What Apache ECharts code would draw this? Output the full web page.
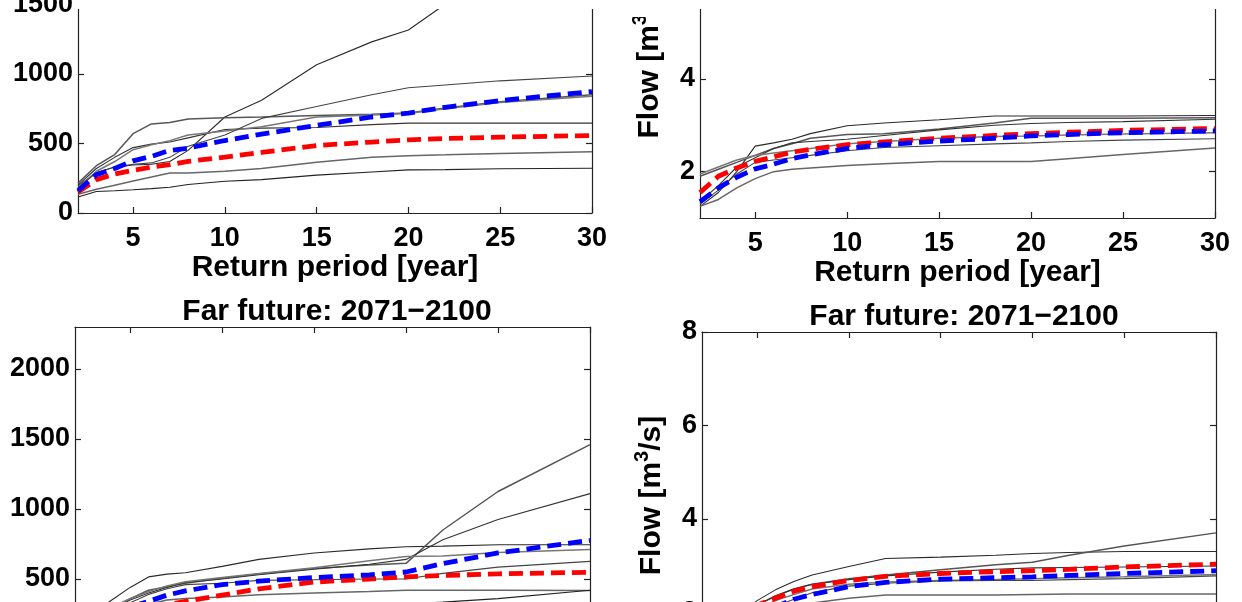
<!DOCTYPE html>
<html>
<head>
<meta charset="utf-8">
<script src="https://cdn.jsdelivr.net/npm/echarts@6/dist/echarts.min.js"></script>
<style>
  html, body { margin: 0; padding: 0; background: #fff; overflow: hidden; width: 1242px; height: 602px; }
  #wrap { position: relative; width: 1242px; height: 602px; overflow: hidden; }
  #chart { position: absolute; left: 0; top: -120px; width: 1242px; height: 850px; }
</style>
</head>
<body>
<div id="wrap"><div id="chart"></div></div>
<script>
// ---- data ----
const returnPeriod = [2, 3, 4, 5, 6, 7, 8, 10, 12, 15, 18, 20, 22, 25, 30];
const xTickValues = [5, 10, 15, 20, 25, 30];
const leftTickValues = [0, 500, 1000, 1500, 2000];
const rightTickValues = [2, 4, 6, 8];
const panelTitle = 'Far future: 2071\u22122100';
const xAxisTitle = 'Return period [year]';

// top-left panel
const tlModels = [
  [195, 290, 330, 345, 350, 370, 450, 690, 810, 1065, 1230, 1315, 1500, 1750, 2100],
  [215, 340, 420, 570, 640, 650, 675, 685, 690, 700, 710, 718, 755, 800, 850],
  [200, 320, 400, 470, 495, 510, 540, 600, 610, 615, 635, 646, 646, 646, 646],
  [180, 300, 370, 455, 490, 520, 560, 590, 620, 690, 705, 715, 750, 795, 840],
  [180, 290, 330, 350, 360, 400, 480, 560, 680, 765, 850, 900, 920, 950, 985],
  [135, 170, 200, 230, 258, 287, 288, 300, 320, 365, 400, 412, 418, 428, 440],
  [115, 155, 160, 167, 175, 185, 205, 228, 240, 272, 295, 310, 312, 318, 322]
];
const tlRed  = [150, 240, 280, 306, 330, 347, 371, 402, 435, 485, 510, 526, 535, 545, 557];
const tlBlue = [160, 275, 320, 375, 407, 450, 466, 521, 567, 630, 690, 718, 760, 808, 873];

// top-right panel
const trModels = [
  [1.25, 1.55, 2.0, 2.55, 2.62, 2.7, 2.82, 2.99, 3.05, 3.12, 3.2, 3.2, 3.2, 3.2, 3.21],
  [1.9, 2.05, 2.2, 2.35, 2.5, 2.6, 2.72, 2.8, 2.82, 2.92, 3.05, 3.15, 3.15, 3.15, 3.16],
  [1.35, 1.7, 2.1, 2.3, 2.5, 2.62, 2.65, 2.7, 2.78, 2.9, 3.0, 3.04, 3.06, 3.08, 3.13],
  [1.95, 2.1, 2.25, 2.35, 2.4, 2.45, 2.5, 2.6, 2.65, 2.72, 2.76, 2.77, 2.79, 2.81, 2.84],
  [1.3, 1.6, 1.95, 2.2, 2.25, 2.3, 2.35, 2.45, 2.52, 2.56, 2.6, 2.62, 2.65, 2.68, 2.71],
  [1.25, 1.4, 1.65, 1.85, 2.0, 2.05, 2.08, 2.13, 2.17, 2.22, 2.22, 2.22, 2.28, 2.37, 2.51]
];
const trRed  = [1.55, 1.9, 2.08, 2.22, 2.32, 2.42, 2.48, 2.58, 2.64, 2.72, 2.78, 2.82, 2.85, 2.89, 2.93];
const trBlue = [1.35, 1.65, 1.88, 2.06, 2.16, 2.28, 2.36, 2.5, 2.58, 2.66, 2.72, 2.77, 2.8, 2.84, 2.88];

// bottom-left panel
const blModels = [
  [180, 260, 350, 440, 515, 535, 545, 590, 640, 686, 715, 730, 735, 745, 745],
  [150, 220, 290, 360, 420, 445, 470, 505, 535, 575, 600, 612, 850, 1125, 1460],
  [150, 210, 280, 350, 400, 440, 475, 500, 530, 570, 605, 640, 780, 925, 1110],
  [160, 230, 300, 360, 410, 450, 480, 510, 540, 580, 630, 660, 665, 690, 710],
  [140, 200, 260, 330, 390, 430, 460, 470, 490, 495, 500, 500, 540, 585, 626],
  [120, 170, 220, 270, 320, 350, 360, 372, 388, 400, 410, 420, 420, 420, 418],
  [100, 140, 170, 200, 220, 240, 250, 270, 285, 300, 310, 320, 335, 360, 420]
];
const blRed  = [100, 160, 205, 250, 285, 315, 340, 385, 430, 478, 500, 515, 525, 537, 548];
const blBlue = [130, 190, 250, 300, 340, 385, 415, 460, 485, 510, 530, 550, 610, 686, 776];

// bottom-right panel
const brModels = [
  [1.3, 1.65, 1.95, 2.25, 2.48, 2.66, 2.8, 2.98, 3.15, 3.18, 3.22, 3.26, 3.28, 3.3, 3.3],
  [1.25, 1.6, 1.9, 2.15, 2.35, 2.5, 2.6, 2.72, 2.8, 2.91, 3.02, 3.07, 3.22, 3.42, 3.7],
  [1.25, 1.6, 1.9, 2.15, 2.35, 2.5, 2.6, 2.7, 2.78, 2.86, 2.92, 2.95, 2.96, 2.97, 2.99],
  [1.2, 1.5, 1.8, 2.05, 2.25, 2.38, 2.5, 2.6, 2.65, 2.68, 2.7, 2.72, 2.74, 2.76, 2.81],
  [1.1, 1.4, 1.7, 1.95, 2.12, 2.28, 2.42, 2.56, 2.62, 2.67, 2.68, 2.68, 2.7, 2.72, 2.78],
  [1.05, 1.3, 1.6, 1.8, 1.95, 2.08, 2.2, 2.3, 2.37, 2.37, 2.37, 2.38, 2.39, 2.39, 2.39]
];
const brRed  = [1.3, 1.65, 1.9, 2.15, 2.3, 2.45, 2.55, 2.68, 2.77, 2.83, 2.87, 2.89, 2.92, 2.97, 3.03];
const brBlue = [1.2, 1.5, 1.78, 2.0, 2.12, 2.28, 2.38, 2.55, 2.64, 2.71, 2.74, 2.76, 2.79, 2.83, 2.89];

// ---- build chart (the canvas is taller than the window and shifted up,
// so the panels are cropped like the reference figure) ----
const FONT = 'Liberation Sans';
const SHIFT = 120;
const panels = [
  { grid: { left: 78, top: SHIFT - 107, width: 514, height: 320 }, ymin: 0, ymax: 2300, yTicks: leftTickValues,
    models: tlModels, red: tlRed, blue: tlBlue, yName: false, namePad: 0 },
  { grid: { left: 700, top: SHIFT - 109, width: 515, height: 327 }, ymin: 1, ymax: 8, yTicks: rightTickValues,
    models: trModels, red: trRed, blue: trBlue, yName: true, namePad: 6 },
  { grid: { left: 75, top: SHIFT + 327, width: 515, height: 322 }, ymin: 0, ymax: 2300, yTicks: leftTickValues,
    models: blModels, red: blRed, blue: blBlue, yName: false, namePad: 0 },
  { grid: { left: 702, top: SHIFT + 332, width: 514, height: 328 }, ymin: 1, ymax: 8, yTicks: rightTickValues,
    models: brModels, red: brRed, blue: brBlue, yName: true, namePad: 0 }
];

const grids = [], xAxes = [], yAxes = [], series = [];
const axisLineStyle = { color: '#222', width: 1.2 };
const labelStyle = { fontFamily: FONT, fontWeight: 'bold', fontSize: 27, color: '#000', formatter: v => String(v) };
const grays = ['#2a2a2a', '#555', '#333', '#777', '#444', '#666', '#222'];

panels.forEach((p, g) => {
  grids.push(Object.assign({ containLabel: false, show: false }, p.grid));
  xAxes.push({
    type: 'value', gridIndex: g, min: 2, max: 30, position: 'bottom',
    name: xAxisTitle, nameLocation: 'middle', nameGap: 40,
    nameTextStyle: { fontFamily: FONT, fontWeight: 'bold', fontSize: 30, color: '#000' },
    axisLine: { onZero: false, lineStyle: axisLineStyle },
    axisTick: { inside: true, length: 6, customValues: xTickValues, lineStyle: axisLineStyle },
    axisLabel: Object.assign({ margin: 12, customValues: xTickValues }, labelStyle),
    splitLine: { show: false }
  });
  xAxes.push({
    type: 'value', gridIndex: g, min: 2, max: 30, position: 'top',
    axisLine: { onZero: false, lineStyle: axisLineStyle },
    axisTick: { inside: true, length: 6, customValues: xTickValues, lineStyle: axisLineStyle },
    axisLabel: { show: false }, splitLine: { show: false }
  });
  yAxes.push({
    type: 'value', gridIndex: g, min: p.ymin, max: p.ymax, position: 'left',
    name: p.yName ? 'Flow [m{sup|3}/s]' : '', nameLocation: 'middle', nameGap: 30,
    nameTextStyle: {
      fontFamily: FONT, fontWeight: 'bold', fontSize: 30, color: '#000',
      padding: [0, p.namePad, 0, 0],
      rich: { sup: { fontFamily: FONT, fontWeight: 'bold', fontSize: 20, color: '#000', verticalAlign: 'top', lineHeight: 40 } }
    },
    axisLine: { onZero: false, lineStyle: axisLineStyle },
    axisTick: { inside: true, length: 6, customValues: p.yTicks, lineStyle: axisLineStyle },
    axisLabel: Object.assign({ margin: 5, customValues: p.yTicks }, labelStyle),
    splitLine: { show: false }
  });
  yAxes.push({
    type: 'value', gridIndex: g, min: p.ymin, max: p.ymax, position: 'right',
    axisLine: { onZero: false, lineStyle: axisLineStyle },
    axisTick: { inside: true, length: 6, customValues: p.yTicks, lineStyle: axisLineStyle },
    axisLabel: { show: false }, splitLine: { show: false }
  });
  p.models.forEach((m, i) => {
    series.push({
      type: 'line', xAxisIndex: 2 * g, yAxisIndex: 2 * g, showSymbol: false, silent: true,
      data: returnPeriod.map((x, k) => [x, m[k]]),
      lineStyle: { color: grays[i % grays.length], width: (i % 2) ? 1.5 : 1.1 },
      z: 2
    });
  });
  series.push({
    type: 'line', xAxisIndex: 2 * g, yAxisIndex: 2 * g, showSymbol: false, silent: true,
    data: returnPeriod.map((x, k) => [x, p.red[k]]),
    lineStyle: { color: '#ff0000', width: 4.8, type: [14, 7] }, z: 3
  });
  series.push({
    type: 'line', xAxisIndex: 2 * g, yAxisIndex: 2 * g, showSymbol: false, silent: true,
    data: returnPeriod.map((x, k) => [x, p.blue[k]]),
    lineStyle: { color: '#0000ff', width: 4.8, type: [14, 7] }, z: 4
  });
});

const titleStyle = { fontFamily: FONT, fontWeight: 'bold', fontSize: 30, color: '#000' };
const option = {
  backgroundColor: '#ffffff',
  animation: false,
  title: [
    { text: panelTitle, left: 332, top: SHIFT + 292, textAlign: 'center', textStyle: titleStyle },
    { text: panelTitle, left: 959, top: SHIFT + 297, textAlign: 'center', textStyle: titleStyle }
  ],
  grid: grids,
  xAxis: xAxes,
  yAxis: yAxes,
  series: series,
  graphic: [
    { type: 'rect', shape: { x: 75, y: SHIFT, width: 530, height: 9 }, style: { fill: '#fff' }, z: 100 },
    { type: 'rect', shape: { x: 605, y: SHIFT, width: 637, height: 9 }, style: { fill: '#fff' }, z: 100 },
    { type: 'rect', shape: { x: 605, y: SHIFT, width: 80, height: 17 }, style: { fill: '#fff' }, z: 100 }
  ]
};

const chart = echarts.init(document.getElementById('chart'), null, { renderer: 'canvas' });
chart.setOption(option);
</script>
</body>
</html>
